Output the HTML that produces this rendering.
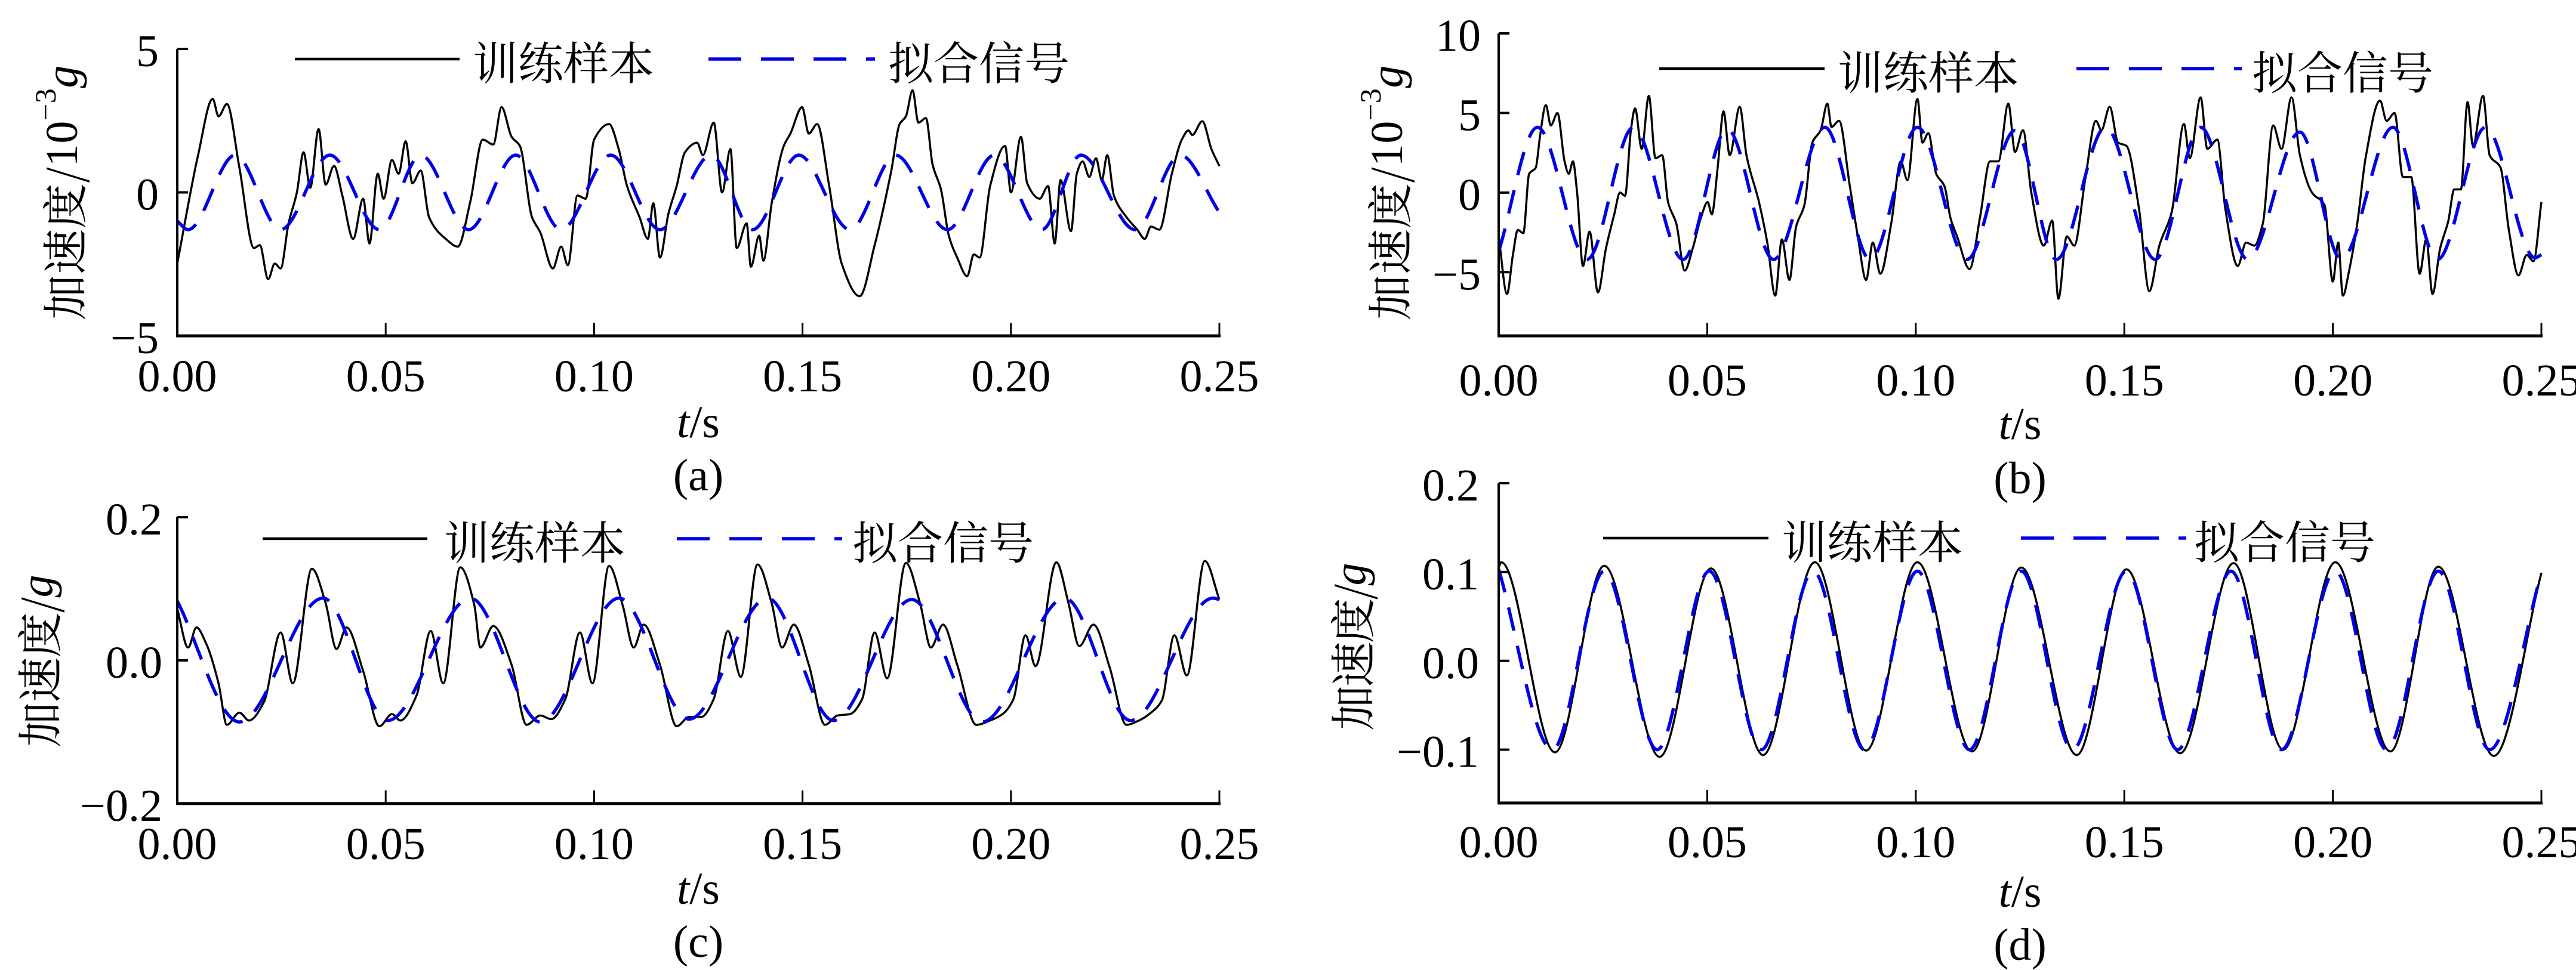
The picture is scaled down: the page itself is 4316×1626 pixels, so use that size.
<!DOCTYPE html>
<html><head><meta charset="utf-8">
<style>
html,body{margin:0;padding:0;background:#fff;}
svg{display:block;}
text{font-family:"Liberation Serif","Noto Serif CJK SC",serif;fill:#000;}
.cjk{font-family:"Noto Serif CJK SC","Liberation Serif",serif;}
</style></head>
<body>
<svg id="fig" width="4316" height="1626" viewBox="0 0 4316 1626" xmlns="http://www.w3.org/2000/svg"></svg>
<script>
// ---------- Data (time in ms, acceleration values) ----------
// Panel (a): 10^-3 g
const aSampleT = [0,5.0,8.5,9.9,11.9,14.9,18.4,19.8,21.8,23.4,24.8,26.7,28.7,30.3,31.9,33.9,35.6,37.6,39.6,42.2,44.6,46.1,48.1,49.5,51.5,53.1,54.8,56.4,58.4,60.4,64.4,67.3,70.3,73.3,75.8,77.8,80.2,82.2,85.1,87.1,90.1,92.1,93.7,96.0,98.0,100.0,103.6,105.9,107.9,110.9,112.9,114.2,115.8,117.8,119.8,121.8,124.7,126.1,128.7,130.7,132.7,134.2,136.6,137.6,139.6,140.6,142.6,145.5,147.1,149.9,151.5,153.5,156.4,159.4,163.7,167.3,171.3,173.3,174.8,176.4,177.8,179.6,181.2,183.2,185.1,187.1,189.5,191.1,192.5,195.0,198.6,200.0,202.4,203.9,206.9,208.9,210.5,211.9,214.4,215.8,217.2,218.8,220.4,221.8,223.1,224.7,227.7,230.3,232.1,233.6,235.6,238.6,241.0,242.6,243.5,245.9,248.1,250];
const aSampleV = [-2.48,1.30,3.26,2.65,3.08,0.86,-1.94,-1.84,-3.02,-2.48,-2.65,-1.08,0,1.40,0.16,2.21,0.27,0.92,-0.11,-1.62,-0.22,-1.78,0.65,-0.22,1.13,0.65,1.78,0.32,0.76,-0.86,-1.62,-1.89,-0.32,1.84,1.67,2.97,1.94,1.62,-0.86,-1.40,-2.65,-1.89,-2.54,-0.11,-0.22,1.84,2.38,1.51,0.22,-0.86,-1.62,-0.38,-2.27,-0.76,0.22,1.40,1.73,1.30,2.43,0,1.51,-1.94,-1.08,-2.59,-1.51,-2.38,-0.38,1.62,2.05,2.97,2.05,2.38,0.22,-2.48,-3.62,-1.84,0.76,2.38,2.65,3.56,2.43,2.59,0.97,0.11,-1.51,-2.27,-2.92,-2.16,-2.27,0.22,1.62,0,1.94,0.32,-0.22,0.22,-1.78,0.43,-1.35,0.65,1.08,0.54,1.19,0.43,1.30,-0.11,-0.86,-1.30,-1.62,-1.19,-1.30,0.65,1.84,2.16,2.00,2.48,1.51,0.92];
const aFitT = [0,2.6,13.9,24.8,36.6,48.5,58.4,69.9,81.2,92.1,104.0,115.8,128.1,138.0,149.1,161.4,172.3,184.8,196.0,207.4,216.8,229.8,240.6,250];
const aFitV = [-1.0,-1.3,1.3,-1.3,1.3,-1.3,1.3,-1.3,1.3,-1.3,1.3,-1.3,1.3,-1.3,1.3,-1.3,1.3,-1.3,1.3,-1.3,1.3,-1.3,1.3,-0.7];
// Panel (b): 10^-3 g
const bSampleT = [0,2.0,3.4,4.6,5.9,7.3,8.9,9.9,11.3,12.5,14.1,15.8,16.8,17.8,18.8,20.2,21.8,23.8,25.7,27.7,29.1,30.3,31.7,32.7,34.3,36.0,37.6,39.2,40.6,42.6,44.6,46.5,48.5,50.1,51.1,52.5,53.9,55.4,57.8,59.4,62.4,64.4,66.3,67.9,69.7,71.3,73.3,75.2,77.2,78.8,79.8,81.6,84.2,86.1,88.1,89.7,91.5,94.1,96.4,98.0,100.4,101.6,103.0,104.9,106.9,108.3,109.9,112.9,115.4,117.8,119.8,122.2,123.8,125.7,127.7,130.7,132.7,134.2,136.2,138.0,140.6,143.2,144.5,146.5,148.5,150.5,153.5,156.0,158.4,161.4,164.3,165.7,168.3,169.9,172.3,174.2,177.2,179.2,181.2,183.2,185.7,187.7,190.1,192.1,195.0,198.0,200.0,201.3,202.4,203.9,205.9,207.9,211.3,212.9,214.8,216.8,218.8,220.8,222.4,223.9,225.7,227.7,229.1,230.7,232.3,233.6,236.0,237.6,240.2,242.2,244.5,246.5,248.1,250];
const bSampleV = [-2.75,-6.37,-3.92,-2.35,-2.55,1.18,1.57,3.53,5.49,4.22,5.00,1.96,1.18,1.96,0,-4.61,-2.45,-6.27,-3.53,-1.37,0,-0.20,3.92,5.29,2.75,6.08,2.16,2.35,-0.59,-1.96,-4.90,-3.53,-1.57,-0.59,-1.37,1.57,5.10,2.35,5.39,2.35,-0.59,-3.14,-6.47,-2.94,-5.49,-2.16,-0.78,3.14,3.92,5.59,4.12,4.51,0.39,-2.75,-5.49,-3.14,-5.10,-1.96,1.96,0.78,5.88,3.14,3.73,1.18,0.39,-1.57,-2.75,-4.80,-1.57,1.96,1.96,5.59,2.55,3.92,0,-3.33,-1.76,-6.67,-2.75,-3.33,0.78,4.51,3.92,5.39,3.14,2.94,-0.98,-6.18,-3.33,-1.18,4.31,2.16,5.98,2.75,3.33,-0.98,-4.61,-3.14,-3.33,-1.96,4.22,2.75,5.98,2.35,0,-0.78,-5.59,-3.14,-6.47,-4.90,-1.86,2.25,5.78,4.51,5.00,0.98,0.98,-5.10,-2.94,-6.37,-3.53,-1.76,0.20,0.20,5.69,2.94,6.08,2.35,1.57,-2.35,-5.20,-3.92,-4.31,-0.59];
const bFitT = [0,9.3,21.2,32.3,44.2,54.8,65.9,78.2,89.1,100.4,112.3,123.8,133.7,145.5,157.4,168.3,179.6,192.1,202.0,214.4,225.1,236.6,248.5,250];
const bFitV = [-3.7,4.1,-4.2,4.1,-4.2,4.0,-4.2,4.1,-4.2,4.1,-4.2,3.9,-4.2,4.1,-4.2,4.1,-4.2,3.8,-4.2,4.1,-4.2,4.1,-4.1,-3.9];
// Panel (c): g
const cSampleT = [0,2.6,4.6,6.9,9.9,11.9,14.9,17.2,20.8,24.8,27.7,32.3,35.6,38.2,40.6,44.6,48.5,51.5,53.5,57.4,60.8,63.8,67.9,71.3,72.7,75.8,80.2,83.8,87.1,89.7,93.1,96.6,99.6,103.6,106.9,109.5,111.9,115.8,119.8,122.8,125.7,128.7,132.1,135.2,139.2,142.6,145.1,147.9,151.5,155.4,158.4,161.4,164.3,167.3,170.3,174.8,178.2,180.8,183.7,187.1,191.7,195.0,198.0,200.6,203.5,205.9,210.9,213.8,216.4,219.8,223.7,227.7,230.7,233.6,236.2,239.2,242.2,246.5,250];
const cSampleV = [0.072,0.018,0.046,0.024,-0.032,-0.090,-0.073,-0.084,-0.058,0.039,-0.032,0.128,0.080,0.016,0.046,-0.015,-0.092,-0.075,-0.084,-0.049,0.041,-0.032,0.130,0.076,0.018,0.048,-0.006,-0.090,-0.077,-0.082,-0.054,0.039,-0.032,0.132,0.076,0.018,0.050,-0.006,-0.092,-0.079,-0.079,-0.054,0.041,-0.023,0.134,0.080,0.018,0.050,-0.006,-0.090,-0.077,-0.075,-0.054,0.039,-0.025,0.136,0.080,0.018,0.050,-0.006,-0.090,-0.084,-0.075,-0.054,0.035,-0.008,0.137,0.080,0.020,0.050,-0.010,-0.090,-0.084,-0.073,-0.056,0.035,-0.021,0.139,0.085];
const cFitT = [0,14.9,35.0,50.5,70.3,87.1,106.0,122.8,141.6,157.4,176.2,193.1,212.9,228.7,248.5,250];
const cFitV = [0.083,-0.086,0.087,-0.084,0.087,-0.086,0.087,-0.082,0.087,-0.084,0.085,-0.086,0.087,-0.084,0.087,0.085];
// Panel (d): g
const dSampleT = [0,0.6,13.5,25.3,38.6,50.9,63.4,75.8,88.1,100.4,113.5,125.3,138.6,150.5,163.4,176.2,188.1,200.6,213.8,225.3,238.6,250];
const dSampleV = [0.105,0.111,-0.103,0.107,-0.108,0.104,-0.106,0.111,-0.101,0.111,-0.102,0.105,-0.106,0.103,-0.104,0.110,-0.100,0.111,-0.102,0.106,-0.107,0.099];
const dFitT = [0,12.9,25.3,38.0,50.5,63.0,75.4,87.7,100.4,112.9,125.3,137.6,150.5,162.8,175.6,187.7,200.6,212.9,225.3,237.6,250];
const dFitV = [0.103,-0.100,0.101,-0.100,0.101,-0.100,0.101,-0.100,0.101,-0.100,0.101,-0.100,0.101,-0.100,0.101,-0.100,0.101,-0.100,0.101,-0.100,0.099];
// Tick labels
const xTickVals = [0,0.05,0.10,0.15,0.20,0.25];
const xTickLabels = ["0.00","0.05","0.10","0.15","0.20","0.25"];
const aYTicks = [5,0,-5];
const aYLabels = ["5","0","\u22125"];
const bYTicks = [10,5,0,-5];
const bYLabels = ["10","5","0","\u22125"];
const cYTicks = [0.2,0,-0.2];
const cYLabels = ["0.2","0.0","\u22120.2"];
const dYTicks = [0.2,0.1,0,-0.1];
const dYLabels = ["0.2","0.1","0.0","\u22120.1"];

const NS = "http://www.w3.org/2000/svg";
const svg = document.getElementById('fig');
function mk(tag, attrs, parent){ const e=document.createElementNS(NS,tag); for(const k in attrs) e.setAttribute(k,attrs[k]); (parent||svg).appendChild(e); return e; }

// monotone cubic path (rendering only)
function monoPath(xs, ys){
  const n=xs.length; if(n<2) return '';
  const d=[], m=new Array(n);
  for(let i=0;i<n-1;i++) d.push((ys[i+1]-ys[i])/(xs[i+1]-xs[i]||1e-9));
  m[0]=d[0]; m[n-1]=d[n-2];
  for(let i=1;i<n-1;i++){ if(d[i-1]*d[i]<=0) m[i]=0; else { const w1=2*(xs[i+1]-xs[i])+(xs[i]-xs[i-1]), w2=(xs[i+1]-xs[i])+2*(xs[i]-xs[i-1]); m[i]=(w1+w2)/(w1/d[i-1]+w2/d[i]); } }
  let p='M'+xs[0].toFixed(1)+','+ys[0].toFixed(1);
  for(let i=0;i<n-1;i++){ const h=(xs[i+1]-xs[i])/3;
    p+='C'+(xs[i]+h).toFixed(1)+','+(ys[i]+m[i]*h).toFixed(1)+' '+(xs[i+1]-h).toFixed(1)+','+(ys[i+1]-m[i+1]*h).toFixed(1)+' '+xs[i+1].toFixed(1)+','+ys[i+1].toFixed(1); }
  return p;
}

function panel(cfg){
  const g=mk('g',{});
  
  
  const xs=t=>cfg.L+(t/0.25)*(cfg.R-cfg.L);
  const ys=v=>cfg.yB-(v-cfg.ymin)/(cfg.ymax-cfg.ymin)*(cfg.yB-cfg.yT);
  const sp=mk('path',{d:monoPath(cfg.sT.map(t=>xs(t/1000)),cfg.sV.map(ys)),fill:'none',stroke:'#000','stroke-width':3.5,'stroke-linejoin':'round'},g);
  
  
  const fp=mk('path',{d:monoPath(cfg.fT.map(t=>xs(t/1000)),cfg.fV.map(ys)),fill:'none',stroke:'#0000e6','stroke-width':5.5,'stroke-dasharray':'40 26'},g);
  
  
  const ya=mk('line',{x1:cfg.L,y1:ys(cfg.yTicks[0]),x2:cfg.L,y2:cfg.yB+2,stroke:'#000','stroke-width':4},g);
  
  
  const xa=mk('line',{x1:cfg.L-2,y1:cfg.yB,x2:cfg.R+2,y2:cfg.yB,stroke:'#000','stroke-width':5},g);
  
  
  xTickVals.forEach((v,i)=>{
    const x=xs(v);
    if(i>0){ const tk=mk('line',{x1:x,y1:cfg.yB,x2:x,y2:cfg.yB-22,stroke:'#000','stroke-width':3},g);
      
       }
    const tl=mk('text',{x:x,y:cfg.xLabY,'font-size':76,'text-anchor':'middle','dominant-baseline':'central'},g);
    tl.textContent=xTickLabels[i];
    
    
  });
  cfg.yTicks.forEach((v,i)=>{
    const y=ys(v);
    const tk=mk('line',{x1:cfg.L,y1:y,x2:cfg.L+18,y2:y,stroke:'#000','stroke-width':4},g);
    
    
    const tl=mk('text',{x:cfg.yLabX,y:y+4,'font-size':76,'text-anchor':'end','dominant-baseline':'central'},g);
    tl.textContent=cfg.yLabels[i];
    
    
  });
  const yt=mk('text',{x:0,y:0,'font-size':76,'text-anchor':'middle','dominant-baseline':'central',textLength:cfg.ytLen,lengthAdjust:'spacing',transform:'translate('+cfg.ytX+','+cfg.ytY+') rotate(-90)'},g);
  
  
  const s1=mk('tspan',{class:'cjk'},yt); s1.textContent='加速度/';
  if(cfg.exp){ const s2=mk('tspan',{},yt); s2.textContent='10';
    const s3=mk('tspan',{'font-size':50,dy:-28},yt); s3.textContent='\u22123';
    const s4=mk('tspan',{'font-style':'italic',dy:28},yt); s4.textContent='g'; }
  else { const s4=mk('tspan',{'font-style':'italic'},yt); s4.textContent='g'; }
  const xt=mk('text',{x:(cfg.L+cfg.R)/2,y:cfg.xtY,'font-size':76,'text-anchor':'middle','dominant-baseline':'central'},g);
  
  
  const t1=mk('tspan',{'font-style':'italic'},xt); t1.textContent='t';
  const t2=mk('tspan',{},xt); t2.textContent='/s';
  const cap=mk('text',{x:(cfg.L+cfg.R)/2,y:cfg.capY,'font-size':76,'text-anchor':'middle','dominant-baseline':'central'},g);
  cap.textContent='('+cfg.id+')';
  
  
  const lg=mk('g',{},g);
  
  
  const l1=mk('line',{x1:cfg.lg[0],y1:cfg.lgY,x2:cfg.lg[1],y2:cfg.lgY,stroke:'#000','stroke-width':4.5},lg);
  
  
  const lt1=mk('text',{x:cfg.lg[2],y:cfg.lgY+2,'font-size':76,'dominant-baseline':'central',class:'cjk'},lg);
  lt1.textContent='训练样本';
  
  
  const l2=mk('line',{x1:cfg.lg[3],y1:cfg.lgY,x2:cfg.lg[4],y2:cfg.lgY,stroke:'#0000e6','stroke-width':5.5,'stroke-dasharray':'55 33'},lg);
  
  
  const lt2=mk('text',{x:cfg.lg[5],y:cfg.lgY+2,'font-size':76,'dominant-baseline':'central',class:'cjk'},lg);
  lt2.textContent='拟合信号';
  
  
}

panel({id:'a',L:297,R:2043,yT:82,yB:563,ymin:-5,ymax:5,sT:aSampleT,sV:aSampleV,fT:aFitT,fV:aFitV,yTicks:aYTicks,yLabels:aYLabels,yLabX:266,xLabY:631,xtY:708,capY:797,ytX:104,ytY:323,ytLen:427,exp:true,lgY:99,lg:[494,770,792,1187,1466,1488]});
panel({id:'b',L:2511,R:4258,yT:56,yB:563,ymin:-9,ymax:10,sT:bSampleT,sV:bSampleV,fT:bFitT,fV:bFitV,yTicks:bYTicks,yLabels:bYLabels,yLabX:2481,xLabY:638,xtY:711,capY:802,ytX:2324,ytY:323,ytLen:427,exp:true,lgY:115,lg:[2780,3057,3079,3479,3756,3773]});
panel({id:'c',L:297,R:2043,yT:867,yB:1347,ymin:-0.2,ymax:0.2,sT:cSampleT,sV:cSampleV,fT:cFitT,fV:cFitV,yTicks:cYTicks,yLabels:cYLabels,yLabX:272,xLabY:1415,xtY:1490,capY:1579,ytX:62,ytY:1108,ytLen:289,exp:false,lgY:903,lg:[440,716,744,1134,1411,1428]});
panel({id:'d',L:2511,R:4258,yT:810,yB:1346,ymin:-0.16,ymax:0.2,sT:dSampleT,sV:dSampleV,fT:dFitT,fV:dFitV,yTicks:dYTicks,yLabels:dYLabels,yLabX:2478,xLabY:1412,xtY:1495,capY:1584,ytX:2262,ytY:1084,ytLen:281,exp:false,lgY:902,lg:[2686,2963,2985,3386,3663,3676]});
</script>
</body></html>
